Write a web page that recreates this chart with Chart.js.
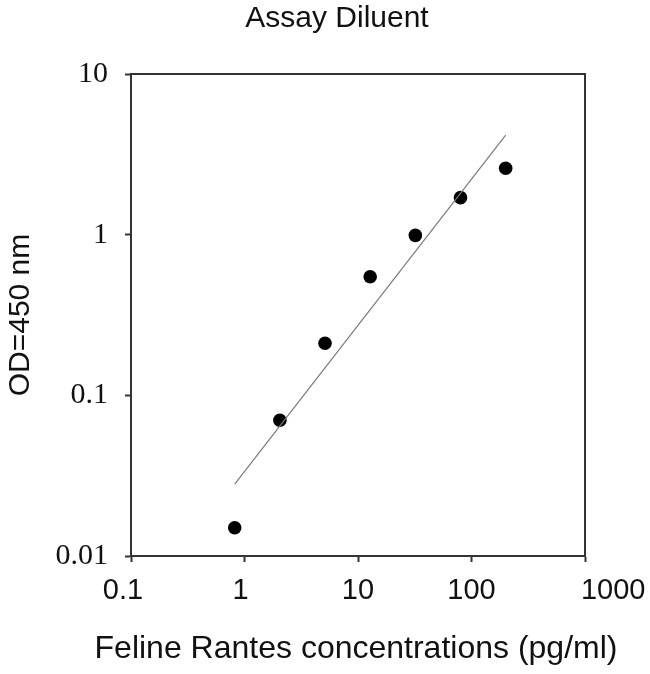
<!DOCTYPE html>
<html>
<head>
<meta charset="utf-8">
<title>Assay Diluent</title>
<script src="https://cdn.jsdelivr.net/npm/chart.js@4/dist/chart.umd.min.js"></script>
<style>
  html, body { margin: 0; padding: 0; background: #fff; }
  #wrap { width: 650px; height: 674px; }
</style>
</head>
<body>
<div id="wrap"><canvas id="chart" width="650" height="674"></canvas></div>
<script>
// standard curve, feline Rantes in assay diluent
const chartTitle = 'Assay Diluent';
const xTitle = 'Feline Rantes concentrations (pg/ml)';
const yTitle = 'OD=450 nm';

const concentrations = [0.82, 2.05, 5.12, 12.8, 32, 80, 200];
const odValues = [0.015, 0.070, 0.211, 0.547, 0.99, 1.70, 2.59];

// fitted line, two ends
const fitX = [0.82, 200];
const fitY = [0.028, 4.17];

const xTicks = [0.1, 1, 10, 100, 1000];
const yTicks = [0.01, 0.1, 1, 10];

const axisColor = '#333';
const sansFont = '"Liberation Sans", Arial, sans-serif';

const toPoints = (xs, ys) => xs.map((x, i) => ({ x: x, y: ys[i] }));

// in the original the first labels sit a bit left of their ticks and the last one right
const xLabel = (v) => {
    if (v === 1000) return '       ' + v;
    if (v === 0.1) return v + '  ';
    if (v === 1) return v + ' ';
    return String(v);
};

// title, x axis title and the top/right frame lines
const framePlugin = {
    id: 'frame',
    afterDraw(chart) {
        const { ctx, chartArea } = chart;
        ctx.save();
        ctx.strokeStyle = axisColor;
        ctx.lineWidth = 2;
        ctx.beginPath();
        ctx.moveTo(chartArea.left, chartArea.top);
        ctx.lineTo(chartArea.right, chartArea.top);
        ctx.lineTo(chartArea.right, chartArea.bottom);
        ctx.stroke();

        ctx.fillStyle = '#111';
        ctx.textAlign = 'center';
        ctx.textBaseline = 'middle';
        ctx.font = '30px ' + sansFont;
        ctx.fillText(chartTitle, chart.width / 2 + 12, 19);
        ctx.font = '32px ' + sansFont;
        ctx.fillText(xTitle, (chartArea.left + chartArea.right) / 2 - 2, 649);
        ctx.restore();
    }
};

new Chart(document.getElementById('chart').getContext('2d'), {
    type: 'scatter',
    data: {
        datasets: [
            {
                label: 'fit',
                data: toPoints(fitX, fitY),
                showLine: true,
                borderColor: '#7a7a7a',
                borderWidth: 1.2,
                pointRadius: 0,
                pointHoverRadius: 0
            },
            {
                label: 'OD',
                data: toPoints(concentrations, odValues),
                backgroundColor: '#000',
                borderWidth: 0,
                pointRadius: 6.8,
                pointHoverRadius: 6.8
            }
        ]
    },
    options: {
        responsive: false,
        animation: false,
        layout: { padding: { top: 74, right: 65, bottom: 0, left: 0 } },
        plugins: {
            legend: { display: false },
            tooltip: { enabled: false },
            title: { display: false }
        },
        scales: {
            x: {
                type: 'logarithmic',
                min: 0.1,
                max: 1000,
                afterBuildTicks: (scale) => { scale.ticks = xTicks.map(v => ({ value: v })); },
                afterFit: (scale) => {
                    scale.height = 118;
                    // labels may overhang the plot edges, keep the plot box fixed
                    scale.paddingLeft = 0;
                    scale.paddingRight = 0;
                },
                grid: { drawOnChartArea: false, drawTicks: true, tickLength: 6, tickColor: axisColor, tickWidth: 2 },
                border: { display: true, color: axisColor, width: 2 },
                ticks: {
                    autoSkip: false,
                    maxRotation: 0,
                    padding: 12,
                    color: '#111',
                    font: { family: sansFont, size: 29 },
                    callback: xLabel
                },
                title: { display: false }
            },
            y: {
                type: 'logarithmic',
                min: 0.01,
                max: 10,
                afterBuildTicks: (scale) => { scale.ticks = yTicks.map(v => ({ value: v })); },
                afterFit: (scale) => { scale.width = 131; },
                grid: { drawOnChartArea: false, drawTicks: true, tickLength: 6, tickColor: axisColor, tickWidth: 2 },
                border: { display: true, color: axisColor, width: 2 },
                ticks: {
                    autoSkip: false,
                    padding: 17,
                    color: '#111',
                    font: { family: '"Liberation Serif", "Times New Roman", serif', size: 30 },
                    callback: (v) => String(v)
                },
                title: {
                    display: true,
                    text: yTitle,
                    color: '#111',
                    padding: { top: 3, bottom: 0 },
                    font: { family: sansFont, size: 30 }
                }
            }
        }
    },
    plugins: [framePlugin]
});
</script>
</body>
</html>
